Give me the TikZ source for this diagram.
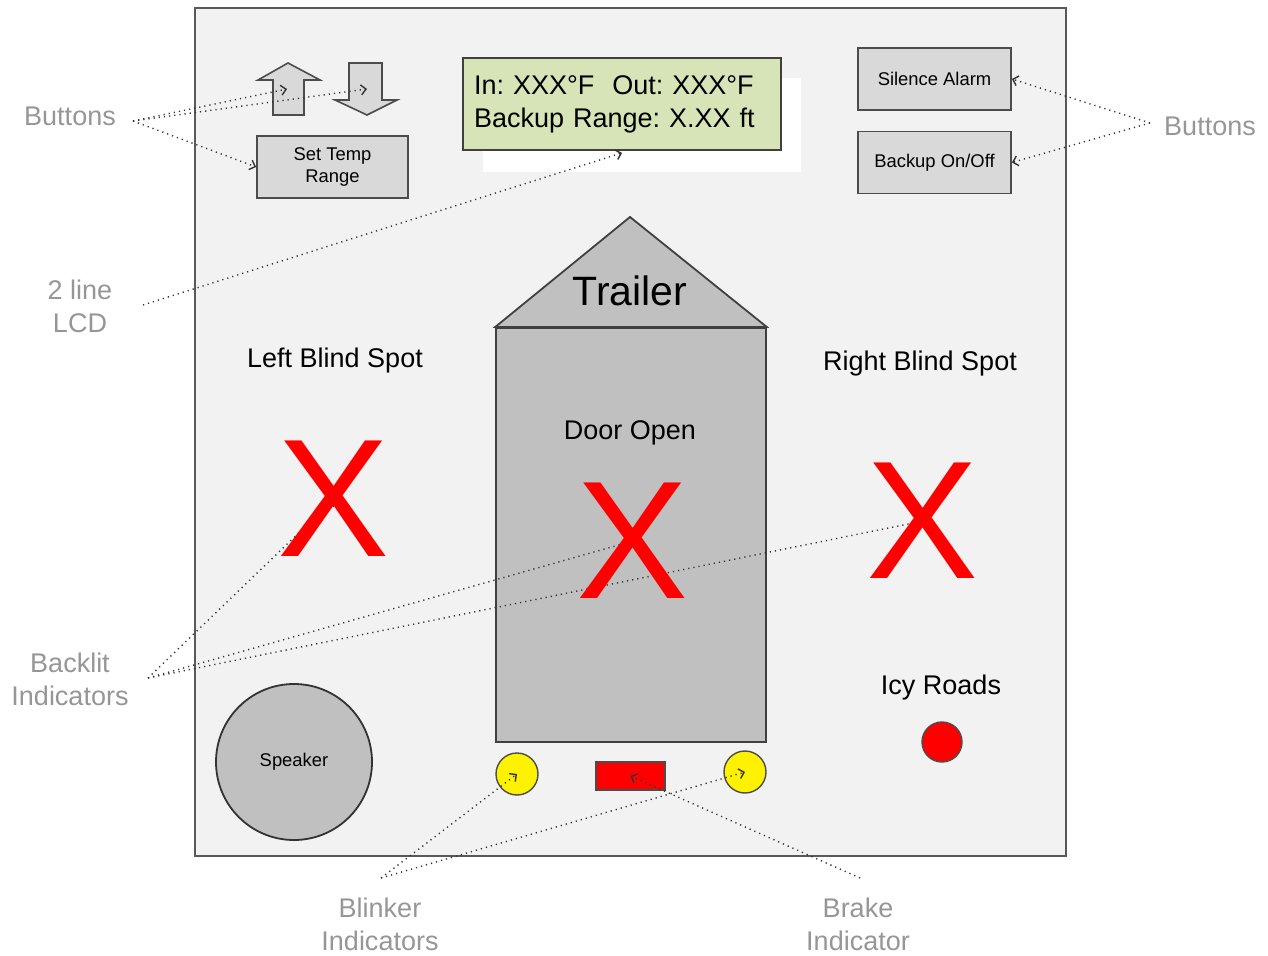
\documentclass[tikz,border=0pt]{standalone}
\usepackage{fontspec}
\setmainfont{Liberation Sans}
\usetikzlibrary{arrows.meta}
\frenchspacing
\definecolor{panelgray}{RGB}{242,242,242}
\definecolor{btngray}{RGB}{217,217,217}
\definecolor{bodygray}{RGB}{192,192,192}
\definecolor{notegray}{RGB}{150,150,150}
\definecolor{lcdgreen}{RGB}{215,228,183}
\pgfdeclarelayer{backdrop}
\pgfdeclarelayer{top}
\pgfsetlayers{backdrop,main,top}
\tikzset{
  btn/.style={draw=black!70, line width=0.9pt, fill=btngray, inner sep=0pt, align=center,
    font=\fontsize{9.2}{11}\selectfont},
  lbl/.style={font=\fontsize{13.5}{16.5}\selectfont},
  note/.style={text=notegray, align=center, font=\fontsize{13.5}{16.5}\selectfont},
  redx/.style={text=red, inner sep=0pt, font=\fontsize{84}{84}\selectfont},
  lamp/.style={circle, draw=black!70, line width=0.7pt, inner sep=0pt},
  pointer/.style={black!80, line width=0.7pt, dash pattern=on 0.6pt off 2pt,
    -{Straight Barb[length=2.5pt,width=5pt]}},
}
\begin{document}
\begin{tikzpicture}[x=0.5pt, y=-0.5pt]
    \useasboundingbox (0,0) rectangle (1268,956);
    \begin{pgfonlayer}{backdrop}
        \draw[black!65, line width=1pt, fill=panelgray] (195,8) rectangle (1066,856);
        \fill[white] (483,78) rectangle (801,172);
    \end{pgfonlayer}
    % up / down buttons
    \draw[black!70, line width=0.8pt, fill=btngray] (288,63) -- (320,80) -- (304,80) -- (304,115)
        -- (273,115) -- (273,80) -- (258,80) -- cycle;
    \draw[black!70, line width=0.8pt, fill=btngray] (349,63) -- (382,63) -- (382,100) -- (397,100)
        -- (367,115) -- (335,100) -- (349,100) -- cycle;
    \coordinate (up) at (287,89);
    \coordinate (down) at (367,89);
    \node[btn, minimum width=75.5pt, minimum height=31pt] (settemp) at (332.5,167) {Set Temp\\Range};
    \node[btn, minimum width=76.5pt, minimum height=31pt] (silence) at (934.5,79) {Silence Alarm};
    \node[btn, minimum width=76.5pt, minimum height=31pt] (backup) at (934.5,162.5) {Backup On/Off};
    % LCD
    \node[lbl, draw=black!75, line width=0.9pt, fill=lcdgreen, minimum width=159pt, minimum height=46pt,
        text width=148pt, inner xsep=5.5pt, align=left] (lcd) at (622,104)
        {In: XXX°F~ Out: XXX°F\\Backup Range: X.XX ft};
    % trailer
    \node[draw=black!75, line width=0.9pt, fill=bodygray, minimum width=135pt, minimum height=207pt,
        inner sep=0pt] (trailer) at (631,535) {};
    \draw[black!75, line width=0.9pt, fill=bodygray] (trailer.north west) -- (630,217) -- (trailer.north east) -- cycle;
    \node[font=\fontsize{20.5}{24}\selectfont] (roof) at (630,291) {Trailer};
    \node[lbl] (door) at (630,433) {Door Open};
    \node[lbl] (leftbs) at (335,361) {Left Blind Spot};
    \node[lbl] (rightbs) at (920,364) {Right Blind Spot};
    \node[lbl] (icy) at (941,688) {Icy Roads};
    \begin{pgfonlayer}{top}
        \node[redx] (xleft) at (334,499) {X};
        \node[redx] (xdoor) at (633,541) {X};
        \node[redx] (xright) at (923,521) {X};
    \end{pgfonlayer}
    % lamps and speaker
    \node[lamp, fill=red, minimum size=20pt] (icylamp) at (942,742) {};
    \node[lamp, fill=yellow, minimum size=21pt] (blinkl) at (517,774) {};
    \node[lamp, fill=yellow, minimum size=21pt] (blinkr) at (745,772) {};
    \node[draw=black!70, line width=0.7pt, fill=red, minimum width=34.5pt, minimum height=14pt,
        inner sep=0pt] (brake) at (630.5,776) {};
    \node[circle, draw=black!80, line width=0.9pt, fill=bodygray, minimum size=78pt, inner sep=0pt,
        font=\fontsize{9.2}{11}\selectfont] (speaker) at (294,762) {Speaker};
    % callouts
    \node[note] (btnleft) at (70,116) {Buttons};
    \node[note] (btnright) at (1210,126) {Buttons};
    \node[note] (lcdnote) at (80,306) {2 line\\LCD};
    \node[note] (backlit) at (70,679) {Backlit\\Indicators};
    \node[note] (blinker) at (380,924) {Blinker\\Indicators};
    \node[note] (brakenote) at (858,924) {Brake\\Indicator};
    \coordinate (lb) at (133,121);
    \coordinate (rb) at (1150,123);
    \coordinate (ln) at (143,305);
    \coordinate (bl) at (148,678);
    \coordinate (bk) at (381,878);
    \coordinate (br) at (860,878);
    \foreach \t in {up,down,settemp.west} \draw[pointer] (lb) -- (\t);
    \foreach \t in {silence.east,backup.east} \draw[pointer] (rb) -- (\t);
    \draw[pointer] (ln) -- ([yshift=-1pt]lcd.south);
    \foreach \t in {xleft,xdoor,xright} \draw[pointer] (bl) -- (\t.center);
    \foreach \t in {blinkl,blinkr} \draw[pointer] (bk) -- (\t.center);
    \draw[pointer] (br) -- (brake.center);
\end{tikzpicture}
\end{document}
